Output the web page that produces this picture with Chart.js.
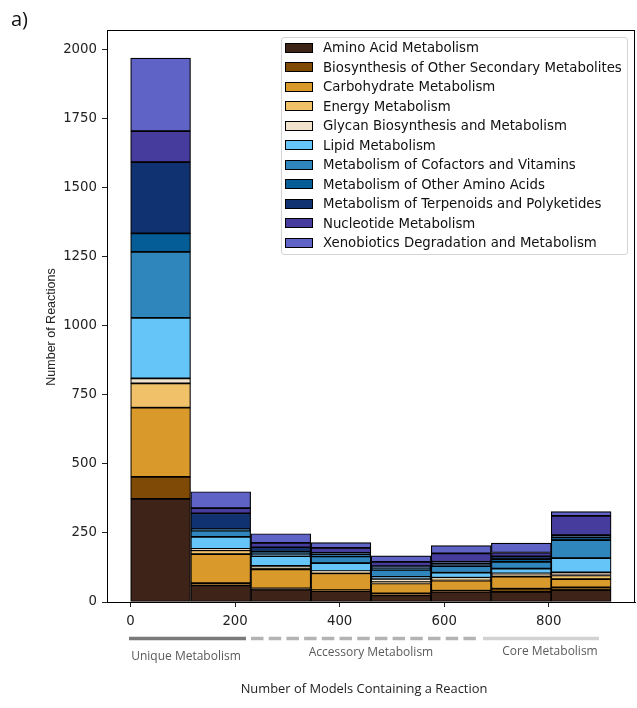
<!DOCTYPE html>
<html>
<head>
<meta charset="utf-8">
<script src="https://cdn.jsdelivr.net/npm/chart.js@4.4.1/dist/chart.umd.min.js"></script>
<style>
  html, body { margin: 0; padding: 0; background: #fff; }
  #wrap { position: relative; width: 637px; height: 708px; }
  #legend {
    position: absolute; left: 281px; top: 37px; width: 347px; height: 218px;
    box-sizing: border-box; border: 1px solid #d4d4d4; border-radius: 3px;
    background: rgba(255,255,255,0.85);
    font-family: "DejaVu Sans", sans-serif; font-size: 13.3px; color: #111;
  }
  .row { position: absolute; left: 3px; height: 19.5px; display: flex; align-items: center; white-space: nowrap; }
  .sw { width: 26px; height: 8px; border: 1px solid #000; margin-right: 10px; flex: none; }
</style>
</head>
<body>
<div id="wrap">
  <canvas id="c" width="637" height="708"></canvas>
  <div id="legend"></div>
</div>
<script>
// KEGG pathway categories, bottom of the stack first
const categories = [
  "Amino Acid Metabolism",
  "Biosynthesis of Other Secondary Metabolites",
  "Carbohydrate Metabolism",
  "Energy Metabolism",
  "Glycan Biosynthesis and Metabolism",
  "Lipid Metabolism",
  "Metabolism of Cofactors and Vitamins",
  "Metabolism of Other Amino Acids",
  "Metabolism of Terpenoids and Polyketides",
  "Nucleotide Metabolism",
  "Xenobiotics Degradation and Metabolism"
];
const colors = [
  "#3e2319", "#7f4a06", "#d99a2b", "#f1c16a", "#f1e2cc", "#66c5f8",
  "#2e86bd", "#045d97", "#113270", "#463c9e", "#5e63c5"
];

// histogram bin edges (number of models containing a reaction)
const binEdges = [0, 115, 230, 345, 460, 575, 690, 805, 919];

// reaction counts per bin, one array per category
const aminoAcid    = [373, 60, 45, 39, 24, 37, 37, 43];
const secondary    = [80, 8, 4, 4, 7, 4, 11, 10];
const carbohydrate = [250, 105, 69, 61, 36, 36, 44, 30];
const energy       = [88, 14, 3, 4, 5, 6, 6, 13];
const glycan       = [18, 5, 10, 4, 12, 5, 6, 11];
const lipid        = [219, 44, 35, 29, 7, 18, 17, 52];
const cofactors    = [239, 22, 7, 24, 25, 24, 24, 65];
const otherAmino   = [67, 6, 9, 6, 6, 8, 10, 10];
const terpenoids   = [258, 57, 16, 7, 8, 8, 10, 8];
const nucleotide   = [112, 19, 16, 18, 15, 30, 14, 70];
const xenobiotics  = [264, 59, 33, 19, 22, 28, 34, 15];

const series = [aminoAcid, secondary, carbohydrate, energy, glycan, lipid,
                cofactors, otherAmino, terpenoids, nucleotide, xenobiotics];

const xTicks = [0, 200, 400, 600, 800];
const yTicks = [0, 250, 500, 750, 1000, 1250, 1500, 1750, 2000];

const binCenters = binEdges.slice(0, -1).map((e, i) => (e + binEdges[i + 1]) / 2);

const datasets = series.map((vals, k) => ({
  label: categories[k],
  data: vals.map((v, i) => ({ x: binCenters[i], y: v })),
  backgroundColor: colors[k],
  borderColor: "#000",
  borderWidth: 1.2,
  borderSkipped: false,
  barPercentage: 1,
  categoryPercentage: 1
}));

// legend box
const legend = document.getElementById("legend");
categories.forEach((name, k) => {
  const row = document.createElement("div");
  row.className = "row";
  row.style.top = (k * 19.5) + "px";
  const sw = document.createElement("span");
  sw.className = "sw";
  sw.style.background = colors[k];
  const txt = document.createElement("span");
  txt.textContent = name;
  row.appendChild(sw);
  row.appendChild(txt);
  legend.appendChild(row);
});

// full frame, y title, panel letter and the metabolism-range strip under the axis
const decorations = {
  id: "decorations",
  afterDraw(chart) {
    const ctx = chart.ctx;
    const a = chart.chartArea;
    ctx.save();
    ctx.strokeStyle = "#000";
    ctx.lineWidth = 1;
    ctx.strokeRect(Math.round(a.left) + 0.5, Math.round(a.top) + 0.5,
                   Math.round(a.right - a.left) - 1, Math.round(a.bottom - a.top));

    ctx.fillStyle = "#111";
    ctx.font = "20px 'Open Sans'";
    ctx.textBaseline = "alphabetic";
    ctx.textAlign = "left";
    ctx.fillText("a)", 11, 26);

    ctx.save();
    ctx.translate(52, 327);
    ctx.rotate(-Math.PI / 2);
    ctx.textAlign = "center";
    ctx.textBaseline = "middle";
    ctx.font = "12.5px 'Liberation Sans'";
    ctx.fillStyle = "#222";
    ctx.fillText("Number of Reactions", 0, 0);
    ctx.restore();

    ctx.lineWidth = 3.5;
    ctx.strokeStyle = "#7a7a7a";
    ctx.beginPath(); ctx.moveTo(129, 638.5); ctx.lineTo(246, 638.5); ctx.stroke();
    ctx.strokeStyle = "#b3b3b3";
    ctx.setLineDash([12.5, 5.2]);
    ctx.beginPath(); ctx.moveTo(251, 638.5); ctx.lineTo(479, 638.5); ctx.stroke();
    ctx.setLineDash([]);
    ctx.strokeStyle = "#d2d2d2";
    ctx.beginPath(); ctx.moveTo(483, 638.5); ctx.lineTo(599, 638.5); ctx.stroke();

    ctx.font = "12px 'Open Sans'";
    ctx.fillStyle = "#5a5a5a";
    ctx.textAlign = "center";
    ctx.textBaseline = "middle";
    ctx.fillText("Unique Metabolism", 186, 657);
    ctx.fillText("Accessory Metabolism", 371, 653);
    ctx.fillText("Core Metabolism", 550, 652);

    ctx.fillStyle = "#222";
    ctx.font = "12.9px 'Open Sans'";
    ctx.fillText("Number of Models Containing a Reaction", 364, 689);
    ctx.restore();
  }
};

new Chart(document.getElementById("c"), {
  type: "bar",
  data: { datasets },
  options: {
    responsive: false,
    animation: false,
    layout: { padding: { top: 30, right: 2, left: 0, bottom: 0 } },
    plugins: { legend: { display: false }, tooltip: { enabled: false } },
    scales: {
      x: {
        type: "linear",
        stacked: true,
        offset: false,
        min: -45,
        max: 965,
        afterBuildTicks: (axis) => { axis.ticks = xTicks.map(v => ({ value: v })); },
        afterFit: (axis) => { axis.height = 106; },
        grid: { offset: false, drawOnChartArea: false, drawTicks: true, tickLength: 5, tickColor: "#222" },
        border: { display: true, color: "#000", width: 1 },
        ticks: { color: "#222", padding: 7, maxRotation: 0,
                 font: { family: "DejaVu Sans", size: 13.3 },
                 callback: (v) => String(v) }
      },
      y: {
        type: "linear",
        stacked: true,
        min: 0,
        max: 2070,
        afterBuildTicks: (axis) => { axis.ticks = yTicks.map(v => ({ value: v })); },
        afterFit: (axis) => { axis.width = 107; },
        grid: { drawOnChartArea: false, drawTicks: true, tickLength: 5, tickColor: "#222" },
        border: { display: true, color: "#000", width: 1 },
        ticks: { color: "#222", padding: 5,
                 font: { family: "DejaVu Sans", size: 13.3 },
                 callback: (v) => String(v) }
      }
    }
  },
  plugins: [decorations]
});
</script>
</body>
</html>
